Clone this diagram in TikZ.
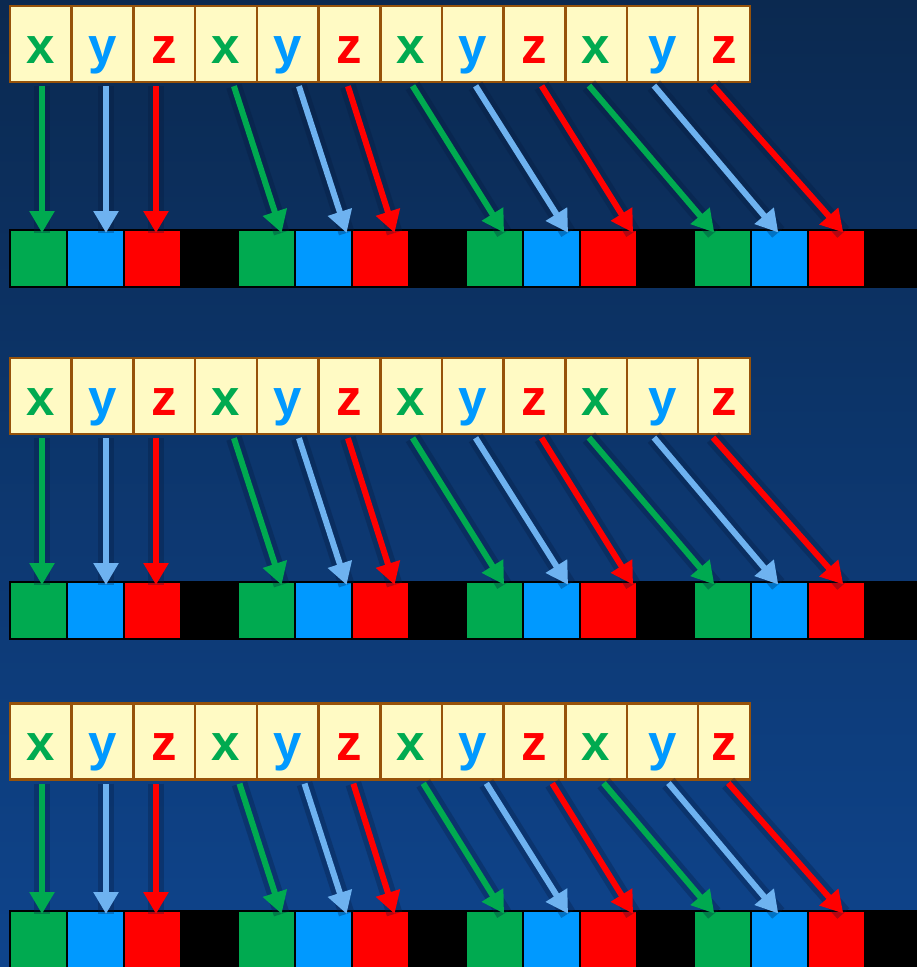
\documentclass[tikz,border=0pt]{standalone}
\usepackage{fontspec}
\setmainfont{Liberation Sans}
\usepackage{xcolor}
\usetikzlibrary{arrows.meta,calc}

\definecolor{cx}{RGB}{0,170,80}
\definecolor{cy}{RGB}{0,153,255}
\definecolor{cz}{RGB}{255,0,0}
\definecolor{ay}{RGB}{110,178,240}
\definecolor{cellfill}{RGB}{255,250,196}
\definecolor{cellline}{RGB}{150,82,10}
\definecolor{bgtop}{RGB}{11,41,80}
\definecolor{bgbot}{RGB}{14,68,140}
\definecolor{glow}{RGB}{5,25,60}

\tikzset{
  cell/.style={rectangle, draw=cellline, line width=2.6pt, fill=cellfill, inner sep=0pt,
    minimum height=76pt, text height=38pt, text depth=0pt,
    font=\bfseries\fontsize{51}{51}\selectfont},
  slot/.style={rectangle, inner sep=0pt, outer sep=0pt, minimum width=55pt, minimum height=55pt},
  arr/.style={line width=6pt, -{Triangle[length=22pt,width=24pt]}, shorten <=3pt, shorten >=-2pt,
    preaction={draw=glow, opacity=.3, line width=16pt, -}}
}

\begin{document}
\begin{tikzpicture}[x=1pt, y=-1pt]
\useasboundingbox (0,0) rectangle (917,967);
\clip (0,0) rectangle (917,967);
\shade[top color=bgtop, bottom color=bgbot] (0,0) rectangle (917,967);

% three rows: centre of the xyz strip, top of the slot bar, arrow length factor
\foreach \r/\ty/\by/\fr in {1/44/229/1, 2/396/581/1, 3/741.5/910/0.884} {
  % slot bar with the coloured slots
  \fill[black] (9,\by) rectangle (930,\by+59);
  \foreach \g in {0,...,3} {
    \foreach \c/\col in {1/cx, 2/cy, 3/cz} {
      \pgfmathtruncatemacro\k{3*\g+\c}
      \pgfmathsetmacro\bx{38.5+57*(4*\g+\c-1)}
      \node[slot, fill=\col] (b\r-\k) at (\bx,\by+29.5) {};
    }
  }
  % packed xyz strip
  \foreach \k/\cx/\w/\l/\col in {1/40.85/61.7/x/cx, 2/102.55/61.7/y/cy, 3/164.25/61.7/z/cz,
      4/225.95/61.7/x/cx, 5/287.65/61.7/y/cy, 6/349.35/61.7/z/cz,
      7/411.05/61.7/x/cx, 8/472.75/61.7/y/cy, 9/534.45/61.7/z/cz,
      10/596.15/61.7/x/cx, 11/662.5/71/y/cy, 12/724/52/z/cz} {
    \node[cell, minimum width=\w pt, text=\col] (t\r-\k) at (\cx,\ty) {\l};
  }
  % arrows from strip to slots
  \foreach \k/\de/\dx/\col in {1/3.5/0/cx, 2/10.5/0/ay, 3/3.5/0/cz,
      4/14.5/48/cx, 5/22.5/48/ay, 6/13.5/47/cz,
      7/8.5/92/cx, 8/15.5/93/ay, 9/23.5/92/cz,
      10/-9.5/126/cx, 11/-2.5/125/ay, 12/5.5/131/cz} {
    \coordinate (e) at ([xshift=\de pt]b\r-\k.north);
    \coordinate (s) at ($(e)+(-\fr*\dx,0)$);
    \draw[arr, \col] (s |- t\r-\k.south) -- (e);
  }
}
\end{tikzpicture}
\end{document}
